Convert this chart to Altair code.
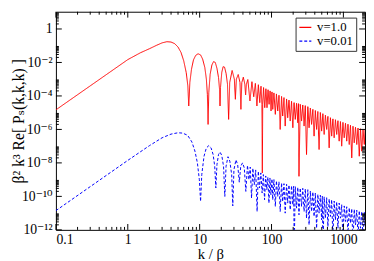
import altair as alt
import pandas as pd

# ---------------- data (k, log10 value) ----------------
red_k = [0.1, 1.0, 1.5, 2.0, 2.5, 3.0, 3.5, 4.0, 4.5, 5.0, 5.5, 6.0, 6.5, 6.85, 7.05, 7.3, 7.7, 8.2, 8.8, 9.5,
         10.3, 11.0, 11.8, 12.4, 12.8, 13.1, 13.4, 14.0, 14.8, 15.6, 16.5, 17.4, 18.3, 18.9, 19.2, 19.5, 20.3,
         21.2, 22.2, 23.3, 24.4, 25.3, 26.2, 28.3, 30.4, 31.4, 32.4, 34.4, 36.4, 37.5, 38.6, 40.5, 42.5, 43.6,
         44.7, 46.8, 50.1, 53.4, 56.6, 59.6, 62.6, 65.6, 68.6, 71.4, 73.6, 74.5, 75.4, 77.5, 80.5, 83.5, 86.5,
         89.5, 92.5, 95.5, 98.5, 101.5,
         104, 108, 113, 117, 122, 127, 132, 138, 143, 149, 155, 162, 168, 175, 182, 190, 198, 206, 214, 223,
         232, 237, 241, 251, 262, 272, 284, 295, 307, 320, 333, 347, 361, 376, 391, 407, 424, 441, 459, 478,
         498, 518, 540, 562, 585, 609, 634, 660, 687, 715, 744, 775, 807, 840, 874, 910, 947, 986, 1027, 1069,
         1113, 1158, 1206, 1255, 1307, 1360, 1416, 1474, 1535, 1598, 1663, 1731, 1802, 1876, 1953, 2000]
red_logP = [-4.83, -1.83, -1.42, -1.18, -0.98, -0.83, -0.76, -0.78, -0.88, -1.08, -1.4, -1.9, -2.6, -3.4, -4.6,
            -3.2, -2.4, -1.85, -1.58, -1.48,
            -1.55, -1.8, -2.3, -3.0, -3.9, -5.7, -3.8, -2.7, -2.15, -1.95, -2.0, -2.35, -2.9, -3.6, -4.6, -3.5,
            -2.6, -2.25, -2.28, -2.65, -3.3, -5.4, -3.2, -2.48, -3.0, -4.2, -3.0, -2.72, -3.2, -4.8, -3.2, -2.88,
            -3.3, -3.94, -3.3, -3.02, -4.3, -3.15, -4.05, -3.25, -4.6, -3.33, -4.4, -3.42, -4.5, -8.6, -4.5,
            -3.5, -4.7, -3.57, -4.7, -3.63, -4.5, -3.7, -4.9, -3.76,
            -4.8, -3.82, -5.1, -3.88, -4.9, -3.96, -6.0, -4.03, -5.2, -4.1, -5.8, -4.18, -5.3, -4.25, -5.5, -4.32,
            -5.9, -4.4, -5.4, -4.44, -5.6, -4.46, -8.8, -4.5, -5.5, -4.54, -5.8, -4.58, -7.5, -4.64, -5.9, -4.72,
            -5.7, -4.8, -6.4, -4.87, -6.0, -4.93, -7.2, -4.99, -6.1, -5.06, -6.3, -5.15, -6.0, -5.22, -7.1, -5.3,
            -6.4, -5.37, -6.5, -5.42, -6.3, -5.48, -6.7, -5.53, -7.0, -5.58, -6.5, -5.63, -6.7, -5.69, -6.9,
            -5.75, -7.7, -5.81, -6.8, -5.87, -6.9, -5.92, -7.6, -5.96, -7.3, -6.0, -6.9, -6.02]

blue_k = [0.1, 1.0, 2.0, 3.0, 4.0, 5.0, 5.8, 6.8, 7.8, 8.6, 9.3, 9.9, 10.3, 10.7, 11.5, 12.4, 13.4, 14.4, 15.4,
          16.2, 16.8, 17.4, 18.3, 19.2, 20.3, 21.5, 22.4, 23.3, 24.8, 26.3, 27.9, 28.9, 30.0, 32.0, 33.8, 35.6,
          37.3, 39.5, 41.8, 43.9, 46.3, 48.5, 50.6, 52.7, 55.0, 57.5, 60.2, 63.0, 65.5, 68.0, 71.0, 74.0, 77.0,
          80.0, 83.0, 86.0, 89.0, 92.0, 95.0, 98.0, 101.5,
          104, 108, 113, 117, 122, 127, 132, 138, 143, 149, 155, 162, 168, 175, 182, 190, 198, 203, 207, 214,
          223, 232, 241, 251, 262, 272, 284, 295, 307, 320, 333, 347, 361, 376, 391, 407, 424, 441, 459, 478,
          498, 509, 520, 540, 562, 585, 609, 634, 660, 687, 715, 744, 775, 807, 840, 874, 910, 947, 986, 1027,
          1069, 1113, 1158, 1206, 1255, 1307, 1360, 1416, 1474, 1535, 1598, 1663, 1731, 1802, 1876, 1953, 2000]
blue_logP = [-10.85, -7.85, -6.97, -6.5, -6.28, -6.2, -6.22, -6.35, -6.75, -7.3, -8.0, -9.0, -10.3, -8.7, -7.6,
             -7.1, -6.97, -7.1, -7.5, -8.2, -9.5, -8.1, -7.5, -7.35, -7.55, -8.2, -10.0, -8.2, -7.63, -7.9, -8.7,
             -10.57, -8.4, -7.82, -8.1, -9.15, -8.2, -8.0, -8.3, -9.7, -8.15, -9.0, -8.25, -10.1, -8.32, -9.3,
             -8.42, -10.9, -8.5, -9.5, -8.6, -9.8, -8.7, -10.2, -8.78, -9.6, -8.85, -10.4, -8.9, -9.9, -8.96,
             -10.2, -9.0, -10.6, -9.07, -10.0, -9.13, -10.9, -9.2, -10.3, -9.24, -11.0, -9.28, -10.4, -9.32,
             -10.8, -9.36, -10.5, -9.4, -13.0, -9.42, -10.7, -9.46, -11.1, -9.5, -10.6, -9.52, -10.9, -9.55,
             -11.3, -9.6, -11.7, -9.68, -10.9, -9.74, -11.2, -9.8, -11.9, -9.88, -11.0, -9.93, -11.4, -9.98,
             -13.0, -10.03, -11.3, -10.08, -11.8, -10.15, -11.2, -10.2, -12.5, -10.28, -11.4, -10.33, -11.9,
             -10.4, -11.3, -10.5, -12.6, -10.57, -11.5, -10.62, -12.3, -10.68, -11.6, -10.73, -12.8, -10.77,
             -11.7, -10.82, -12.4, -10.86, -11.9, -10.9, -12.7, -10.94, -11.8]

series_names = ["v=1.0", "v=0.01"]
series_colors = ["#ff0000", "#0000ff"]

x_major = [0.1, 1, 10, 100, 1000]
x_minor = [m * 10.0 ** e for e in (-1, 0, 1, 2) for m in range(2, 10)]
y_major = [1e-12, 1e-10, 1e-8, 1e-6, 1e-4, 1e-2, 1]
y_minor = [m * 10.0 ** e for e in (-12, -10, -8, -6, -4, -2, 0) for m in range(2, 10)]
y_labels = ["10⁻¹²", "10⁻¹⁰", "10⁻⁸", "10⁻⁶", "10⁻⁴", "10⁻²", "1"]

rows = []
for name, ks, ls in [(series_names[0], red_k, red_logP), (series_names[1], blue_k, blue_logP)]:
    for k, l in zip(ks, ls):
        rows.append({"k": k, "P": 10.0 ** l, "series": name})
df = pd.DataFrame(rows)

W, H = 316, 223
FONT = "'Liberation Serif', 'Times New Roman', 'DejaVu Serif', serif"
xscale = alt.Scale(type="log", domain=[0.1, 2000], nice=False)
yscale = alt.Scale(type="log", domain=[1e-12, 10.7], nice=False)

label_expr_y = "[" + ",".join("'" + s + "'" for s in y_labels) + "][round((log(datum.value)/LN10 + 12)/2)]"

x_axis = alt.Axis(values=x_major, ticks=False, domain=False, grid=False,
                  labelExpr="datum.value < 1 ? '0.1' : format(datum.value, 'd')",
                  labelFont=FONT, labelFontSize=14, labelPadding=3, labelColor="black",
                  title="k / β", titleFont=FONT, titleFontSize=15, titleFontWeight="normal",
                  titlePadding=0, titleColor="black")
y_axis = alt.Axis(values=y_major, ticks=False, domain=False, grid=False,
                  labelExpr=label_expr_y, labelFont=FONT, labelFontSize=14, labelPadding=4,
                  labelColor="black",
                  title="β² k³ Re[ Pₛ(k,k,k) ]", titleFont=FONT, titleFontSize=16,
                  titleFontWeight="normal", titleColor="black", titleX=-38,
                  titleBaseline="middle")

legend = alt.Legend(title=None, orient="none", legendX=245, legendY=6, strokeColor="#333333",
                    fillColor="white", padding=3, labelFont=FONT, labelFontSize=13,
                    symbolType="stroke", symbolSize=150, symbolStrokeWidth=1.2, rowPadding=-2,
                    labelOffset=5, labelColor="black", labelLimit=100)

lines = alt.Chart(df).mark_line(clip=True, strokeWidth=1).encode(
    x=alt.X("k:Q", scale=xscale, axis=x_axis),
    y=alt.Y("P:Q", scale=yscale, axis=y_axis),
    color=alt.Color("series:N", scale=alt.Scale(domain=series_names, range=series_colors),
                    sort=series_names, legend=legend),
    strokeDash=alt.StrokeDash("series:N", scale=alt.Scale(domain=series_names, range=[[1, 0], [3, 2]]),
                              sort=series_names, legend=legend),
    order=alt.Order("k:Q"),
)

def xticks(vals, length, bottom=True):
    d = pd.DataFrame({"k": vals})
    y0 = H if bottom else 0
    y1 = H - length if bottom else length
    return alt.Chart(d).mark_rule(color="black", strokeWidth=1).encode(
        x=alt.X("k:Q", scale=xscale, axis=x_axis), y=alt.value(y0), y2=alt.value(y1))

def yticks(vals, length, left=True):
    d = pd.DataFrame({"P": vals})
    x0 = 0 if left else W
    x1 = length if left else W - length
    return alt.Chart(d).mark_rule(color="black", strokeWidth=1).encode(
        y=alt.Y("P:Q", scale=yscale, axis=y_axis), x=alt.value(x0), x2=alt.value(x1))

ticks = [
    xticks(x_major, 6, True), xticks(x_minor, 3, True),
    xticks(x_major, 6, False), xticks(x_minor, 3, False),
    yticks(y_major, 6, True), yticks(y_minor, 3, True),
    yticks(y_major, 6, False), yticks(y_minor, 3, False),
]

chart = alt.layer(lines, *ticks).properties(
    width=W, height=H,
    autosize=alt.AutoSizeParams(type="none"),
    padding={"left": 49, "top": 1, "right": 1, "bottom": 29},
    background="white",
).configure_view(stroke="black", strokeWidth=1)

chart.save("out.html", embed_options={"renderer": "svg", "actions": False})
